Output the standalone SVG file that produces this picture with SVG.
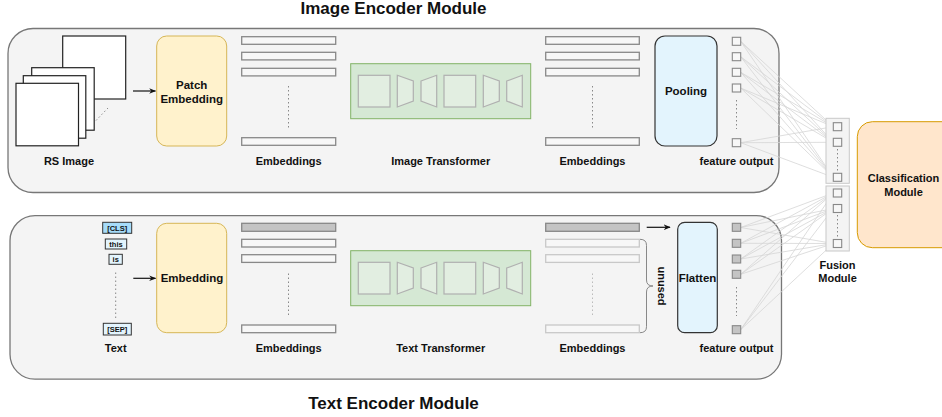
<svg xmlns="http://www.w3.org/2000/svg" width="942" height="417" viewBox="0 0 942 417">
<style>
text{font-family:"Liberation Sans",Arial,sans-serif;font-weight:bold;fill:#111;text-anchor:middle}
.t17{font-size:17px}
.t11{font-size:11px}
.t115{font-size:11.5px}
.tok{font-size:7.5px}
.module{fill:#f4f4f4;stroke:#777;stroke-width:1.3}
.img{fill:#fff;stroke:#222;stroke-width:1.2}
.yel{fill:#fff2cc;stroke:#d6b656;stroke-width:1}
.blue{fill:#e3f4fd;stroke:#333;stroke-width:1.2}
.bar{fill:#f7f7f7;stroke:#888;stroke-width:1.3}
.barg{fill:#c4c4c4;stroke:#888;stroke-width:1.3}
.barl{fill:#f7f7f7;stroke:#c8c8c8;stroke-width:1.3}
.dot{stroke:#888;stroke-width:1;stroke-dasharray:1.5 2.5;fill:none}
.green{fill:#d5e8d4;stroke:#82b366;stroke-width:1}
.inner{fill:#e2eee1;stroke:#b0b0b0;stroke-width:1.2}
.sq{fill:#f7f7f7;stroke:#888;stroke-width:1.1}
.sqg{fill:#c4c4c4;stroke:#888;stroke-width:1.1}
.fus{fill:#f4f4f4;stroke:#c8c8c8;stroke-width:1}
.link{stroke:#d6d6d6;stroke-width:0.8;fill:none}
.arr{stroke:#111;stroke-width:1.2;fill:none;marker-end:url(#ah)}
</style>
<defs>
<marker id="ah" viewBox="0 0 10 10" refX="9" refY="5" markerWidth="7" markerHeight="7" orient="auto" markerUnits="userSpaceOnUse">
<path d="M0,1 L10,5 L0,9 L3,5 Z" fill="#111"/>
</marker>
<g id="tf">
<rect class="green" x="0" y="0" width="180" height="55"/>
<rect class="inner" x="7.6" y="11.6" width="31.7" height="31.7"/>
<polygon class="inner" points="46.6,11.6 62.6,17.3 62.6,37.3 46.6,43.3"/>
<polygon class="inner" points="70.3,17.3 86,11.6 86,43.3 70.3,37.3"/>
<rect class="inner" x="93.3" y="11.6" width="31.7" height="31.7"/>
<polygon class="inner" points="132.6,11.6 148.6,17.3 148.6,37.3 132.6,43.3"/>
<polygon class="inner" points="156,17.3 171.6,11.6 171.6,43.3 156,37.3"/>
</g>
</defs>

<text class="t17" x="393.5" y="14">Image Encoder Module</text>
<text class="t17" x="393.5" y="408.5">Text Encoder Module</text>

<g id="image-encoder">
<rect class="module" x="8" y="28.5" width="771" height="164" rx="25"/>
</g>
<g id="text-encoder">
<rect class="module" x="10" y="215.7" width="771.5" height="163.5" rx="25"/>
</g>

<g id="rs-image">
<rect class="img" x="62.7" y="36" width="63" height="63"/>
<rect class="img" x="31.7" y="67.7" width="62.5" height="62.5"/>
<rect class="img" x="23.3" y="75.7" width="62.5" height="62.5"/>
<rect class="img" x="16" y="83.3" width="62.5" height="62.5"/>
<line class="dot" x1="96" y1="120.5" x2="108" y2="108"/>
<text class="t11" x="69" y="165">RS Image</text>
</g>

<g id="patch-embedding">
<rect class="yel" x="156.7" y="36" width="70" height="110" rx="10"/>
<text class="t115" x="191.7" y="89">Patch</text>
<text class="t115" x="191.7" y="103">Embedding</text>
</g>

<g id="img-embeddings">
<rect class="bar" x="241.7" y="36.7" width="94" height="7.6"/>
<rect class="bar" x="241.7" y="52.3" width="94" height="7.6"/>
<rect class="bar" x="241.7" y="68.3" width="94" height="7.6"/>
<rect class="bar" x="241.7" y="137.7" width="94" height="7.6"/>
<line class="dot" x1="288.5" y1="86" x2="288.5" y2="130"/>
<text class="t11" x="288.7" y="165">Embeddings</text>
</g>

<g id="image-transformer">
<use href="#tf" x="350.7" y="63.7"/>
<text class="t11" x="440.7" y="165">Image Transformer</text>
</g>

<g id="img-embeddings-out">
<rect class="bar" x="545.7" y="36.7" width="93.6" height="7.6"/>
<rect class="bar" x="545.7" y="52.3" width="93.6" height="7.6"/>
<rect class="bar" x="545.7" y="68.3" width="93.6" height="7.6"/>
<rect class="bar" x="545.7" y="137.7" width="93.6" height="7.6"/>
<line class="dot" x1="592.5" y1="86" x2="592.5" y2="130"/>
<text class="t11" x="592.5" y="165">Embeddings</text>
</g>

<g id="pooling">
<rect class="blue" x="655" y="36" width="62" height="110" rx="10"/>
<text class="t115" x="686" y="95">Pooling</text>
</g>

<g id="connectors">
<line class="arr" x1="133" y1="91" x2="155.5" y2="91"/>
<line class="arr" x1="133.3" y1="278.3" x2="155.5" y2="278.3"/>
<line class="arr" x1="646.7" y1="227.3" x2="670" y2="227.3"/>
<g class="link">
<path d="M740.7,41.3L833.3,126.7M740.7,41.3L833.3,142.3M740.7,41.3L833.3,177.3"/>
<path d="M740.7,56.7L833.3,126.7M740.7,56.7L833.3,142.3M740.7,56.7L833.3,177.3"/>
<path d="M740.7,72.3L833.3,126.7M740.7,72.3L833.3,142.3M740.7,72.3L833.3,177.3"/>
<path d="M740.7,88L833.3,126.7M740.7,88L833.3,142.3M740.7,88L833.3,177.3"/>
<path d="M740.7,142.7L833.3,126.7M740.7,142.7L833.3,142.3M740.7,142.7L833.3,177.3"/>
<path d="M740.7,227.5L833.3,193M740.7,227.5L833.3,208.5M740.7,227.5L833.3,243.5"/>
<path d="M740.7,243.3L833.3,193M740.7,243.3L833.3,208.5M740.7,243.3L833.3,243.5"/>
<path d="M740.7,259L833.3,193M740.7,259L833.3,208.5M740.7,259L833.3,243.5"/>
<path d="M740.7,274.3L833.3,193M740.7,274.3L833.3,208.5M740.7,274.3L833.3,243.5"/>
<path d="M740.7,329.7L833.3,193M740.7,329.7L833.3,208.5M740.7,329.7L833.3,243.5"/>
</g>
</g>

<g id="img-feature-output">
<rect class="sq" x="732.3" y="37.3" width="8.4" height="8"/>
<rect class="sq" x="732.3" y="52.7" width="8.4" height="8"/>
<rect class="sq" x="732.3" y="68.3" width="8.4" height="8"/>
<rect class="sq" x="732.3" y="84" width="8.4" height="8"/>
<rect class="sq" x="732.3" y="138.7" width="8.4" height="8"/>
<line class="dot" x1="736.5" y1="100" x2="736.5" y2="129"/>
<text class="t11" x="736.5" y="165">feature output</text>
</g>

<g id="fusion-module">
<rect class="fus" x="826" y="118.3" width="23.3" height="65"/>
<rect class="fus" x="826" y="186" width="23.3" height="65"/>
<rect class="sq" x="833.3" y="122.7" width="8.4" height="8"/>
<rect class="sq" x="833.3" y="138.3" width="8.4" height="8"/>
<rect class="sq" x="833.3" y="173.3" width="8.4" height="8"/>
<rect class="sq" x="833.3" y="189" width="8.4" height="8"/>
<rect class="sq" x="833.3" y="204.5" width="8.4" height="8"/>
<rect class="sq" x="833.3" y="239.5" width="8.4" height="8"/>
<line class="dot" x1="837.5" y1="149" x2="837.5" y2="171"/>
<line class="dot" x1="837.5" y1="215" x2="837.5" y2="237"/>
<text class="t11" x="837.5" y="269">Fusion</text>
<text class="t11" x="837.5" y="282">Module</text>
</g>

<g id="classification-module">
<rect x="857.3" y="121.7" width="100" height="126" rx="15" fill="#ffe6cc" stroke="#d79b00" stroke-width="1"/>
<text class="t11" x="903.5" y="182">Classification</text>
<text class="t11" x="903.5" y="195.5">Module</text>
</g>

<g id="text-input">
<rect x="102.7" y="222.3" width="29" height="11" fill="#a6dcfa" stroke="#333" stroke-width="1"/>
<text class="tok" x="117.2" y="230.6">[CLS]</text>
<rect x="105.3" y="239" width="21.4" height="10" fill="#e3f4fd" stroke="#333" stroke-width="1"/>
<text class="tok" x="116" y="246.8">this</text>
<rect x="109" y="254.3" width="13.3" height="10" fill="#e3f4fd" stroke="#333" stroke-width="1"/>
<text class="tok" x="115.7" y="262">is</text>
<line class="dot" x1="115.7" y1="272.5" x2="115.7" y2="318"/>
<rect x="103.3" y="323.3" width="28" height="11.7" fill="#e3f4fd" stroke="#333" stroke-width="1"/>
<text class="tok" x="117.3" y="332">[SEP]</text>
<text class="t11" x="115.7" y="352">Text</text>
</g>

<g id="embedding">
<rect class="yel" x="156.7" y="223.3" width="70" height="109.4" rx="10"/>
<text class="t115" x="192" y="282">Embedding</text>
</g>

<g id="txt-embeddings">
<rect class="barg" x="241.7" y="223.3" width="94" height="8"/>
<rect class="bar" x="241.7" y="239.3" width="94" height="7.7"/>
<rect class="bar" x="241.7" y="254.7" width="94" height="7.7"/>
<rect class="bar" x="241.7" y="325" width="94" height="7.7"/>
<line class="dot" x1="288.5" y1="273.5" x2="288.5" y2="317.5"/>
<text class="t11" x="288.7" y="352">Embeddings</text>
</g>

<g id="text-transformer">
<use href="#tf" x="350.7" y="250.7"/>
<text class="t11" x="440.7" y="352">Text Transformer</text>
</g>

<g id="txt-embeddings-out">
<rect class="barg" x="545.7" y="223.3" width="93.6" height="8"/>
<rect class="barl" x="545.7" y="239.3" width="93.6" height="7.7"/>
<rect class="barl" x="545.7" y="254.7" width="93.6" height="7.7"/>
<rect class="barl" x="545.7" y="325" width="93.6" height="7.7"/>
<line x1="592.5" y1="273.5" x2="592.5" y2="317.5" stroke="#bbb" stroke-width="1" stroke-dasharray="1.5 2.5"/>
<path d="M640,239.3 Q646.5,239.3 646.5,245.3 L646.5,280 Q646.5,286 653,286 Q646.5,286 646.5,292 L646.5,326.7 Q646.5,332.7 640,332.7" fill="none" stroke="#888" stroke-width="1"/>
<text class="t11" transform="translate(657.5,286) rotate(90)" x="0" y="0">unused</text>
<text class="t11" x="592.5" y="352">Embeddings</text>
</g>

<g id="flatten">
<rect class="blue" x="677.7" y="222.3" width="39.6" height="110.4" rx="7"/>
<text class="t115" x="697.5" y="282">Flatten</text>
</g>

<g id="txt-feature-output">
<rect class="sqg" x="732.3" y="223.3" width="8.4" height="8"/>
<rect class="sqg" x="732.3" y="239.3" width="8.4" height="8"/>
<rect class="sqg" x="732.3" y="255" width="8.4" height="8"/>
<rect class="sqg" x="732.3" y="270.3" width="8.4" height="8"/>
<rect class="sqg" x="732.3" y="325.7" width="8.4" height="8"/>
<line class="dot" x1="736.5" y1="287" x2="736.5" y2="316"/>
<text class="t11" x="736.5" y="352">feature output</text>
</g>
</svg>
